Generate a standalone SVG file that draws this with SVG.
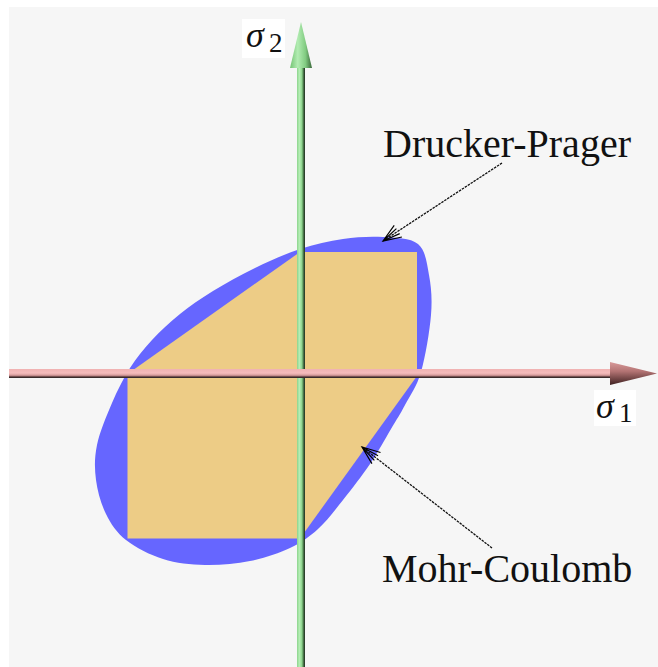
<svg xmlns="http://www.w3.org/2000/svg" width="658" height="667" viewBox="0 0 658 667">
<style>
.lbl{font-family:"Liberation Serif","Times New Roman",serif;font-size:40px;fill:#111}
.sig{font-family:"Liberation Serif","Times New Roman",serif;font-style:italic;font-size:36px;fill:#111}
.sub{font-family:"Liberation Serif","Times New Roman",serif;font-size:27px;fill:#111}
.leader{fill:none;stroke:#111;stroke-width:1.3;stroke-dasharray:2.5 1}
</style>
<defs>
<linearGradient id="gx" x1="0" y1="0" x2="0" y2="1">
<stop offset="0" stop-color="#f0b2b2"/>
<stop offset="0.45" stop-color="#f5bcbc"/>
<stop offset="0.7" stop-color="#d59a9a"/>
<stop offset="0.85" stop-color="#6a4848"/>
<stop offset="1" stop-color="#1e1a1a"/>
</linearGradient>
<linearGradient id="gy" x1="0" y1="0" x2="1" y2="0">
<stop offset="0" stop-color="#8cd48c"/>
<stop offset="0.3" stop-color="#b6eeb6"/>
<stop offset="0.6" stop-color="#8fd68f"/>
<stop offset="0.8" stop-color="#4a784a"/>
<stop offset="1" stop-color="#1e281e"/>
</linearGradient>
<linearGradient id="cx" x1="0" y1="0" x2="0" y2="1">
<stop offset="0" stop-color="#d89a9a"/>
<stop offset="0.4" stop-color="#b47474"/>
<stop offset="1" stop-color="#3e2020"/>
</linearGradient>
<linearGradient id="cy" x1="0" y1="0" x2="1" y2="0">
<stop offset="0" stop-color="#74c474"/>
<stop offset="0.35" stop-color="#b2ecb2"/>
<stop offset="0.7" stop-color="#82cc82"/>
<stop offset="1" stop-color="#3a683a"/>
</linearGradient>
<marker id="ah" markerUnits="userSpaceOnUse" markerWidth="30" markerHeight="30" viewBox="-25 -15 30 30" refX="0" refY="0" orient="auto" overflow="visible">
<path d="M-18,-7 L0,0 L-18,7 M-18,-3 L0,0 L-18,3" fill="none" stroke="#000" stroke-width="1.2"/>
</marker>
</defs>
<rect x="0" y="0" width="658" height="667" fill="#ffffff"/>
<rect x="9" y="7" width="649" height="660" fill="#f6f6f6"/>

<g id="drucker-prager-region">
<path fill="#6666ff" d="M383 237 C395.5 237.83 410.33 237.67 418 244 C425.67 250.33 426.83 263.17 429 275 C431.17 286.83 432.33 298.83 431 315 C429.67 331.17 425.33 357 421 372 C416.67 387 410 395.5 405 405 C400 414.5 396.83 419.17 391 429 C385.17 438.83 378 452.17 370 464 C362 475.83 351.67 489.17 343 500 C334.33 510.83 326.83 521 318 529 C309.17 537 301.33 542.67 290 548 C278.67 553.33 264.17 558.17 250 561 C235.83 563.83 219.5 565.33 205 565 C190.5 564.67 176.17 563.17 163 559 C149.83 554.83 135.5 547.5 126 540 C116.5 532.5 111 524 106 514 C101 504 97.5 491.5 96 480 C94.5 468.5 94.33 457.83 97 445 C99.67 432.17 106.5 415.83 112 403 C117.5 390.17 123.33 378.5 130 368 C136.67 357.5 143.67 349 152 340 C160.33 331 169.83 322.17 180 314 C190.17 305.83 200.5 298.67 213 291 C225.5 283.33 240.5 275 255 268 C269.5 261 285.33 253.83 300 249 C314.67 244.17 329.17 241 343 239 C356.83 237 370.5 236.17 383 237 Z"/>
</g>
<g id="mohr-coulomb-region">
<polygon fill="#edcc86" points="127.5,538.5 127.5,374 300,252 417,252 417,376 300,538.5"/>
</g>

<g id="axis-sigma2">
<rect x="297" y="62" width="8" height="605" fill="url(#gy)"/>
<polygon points="290,68 301,22 312,68" fill="url(#cy)"/>
<rect x="242" y="19" width="43" height="39" fill="#ffffff"/>
<text class="sig" x="246" y="47">σ</text>
<text class="sub" x="269" y="52">2</text>
</g>
<g id="axis-sigma1">
<rect x="9" y="369" width="605" height="9" fill="url(#gx)"/>
<polygon points="610,362 657,373.5 610,385" fill="url(#cx)"/>
<rect x="594" y="390" width="42" height="36" fill="#ffffff"/>
<text class="sig" x="596" y="418">σ</text>
<text class="sub" x="619" y="422">1</text>
</g>

<g id="label-drucker-prager">
<text class="lbl" x="383" y="157">Drucker-Prager</text>
</g>
<g id="label-mohr-coulomb">
<text class="lbl" x="382" y="582">Mohr-Coulomb</text>
</g>

<g id="connectors">
<line class="leader" x1="502" y1="163" x2="383" y2="241" marker-end="url(#ah)"/>
<line class="leader" x1="492" y1="548" x2="362" y2="447" marker-end="url(#ah)"/>
</g>
</svg>
